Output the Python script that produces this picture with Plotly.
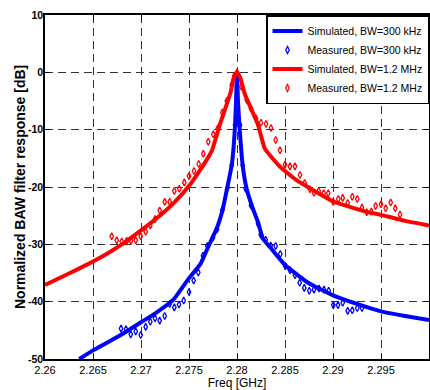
import plotly.graph_objects as go

# ---------------- data ----------------
x_tick_vals = [2.26, 2.265, 2.27, 2.275, 2.28, 2.285, 2.29, 2.295, 2.3]
x_tick_text = ["2.26", "2.265", "2.27", "2.275", "2.28", "2.285", "2.29", "2.295", "2.3"]
y_tick_vals = [10, 0, -10, -20, -30, -40, -50]
y_tick_text = ["10", "0", "-10", "-20", "-30", "-40", "-50"]

sim300_f = [2.26357, 2.2650, 2.2664, 2.2682, 2.2700, 2.2716, 2.2734, 2.2750, 2.2762,
            2.2768, 2.2774, 2.2779, 2.2785, 2.2790, 2.27945, 2.27965, 2.2798, 2.2799,
            2.2800, 2.2801, 2.28025, 2.28059, 2.2810, 2.2816, 2.2822, 2.2827, 2.2835,
            2.2850, 2.2875, 2.2900, 2.2925, 2.2950, 2.2975, 2.3000]
sim300_db = [-50.0, -48.5, -47.2, -45.5, -43.6, -41.9, -39.6, -35.9, -33.4,
             -31.2, -29.0, -27.2, -24.0, -20.0, -16.2, -13.0, -9.2, -5.0,
             0.0, -5.0, -9.2, -16.2, -20.3, -23.5, -26.2, -29.0, -30.6,
             -33.6, -36.8, -38.9, -40.4, -41.7, -42.5, -43.2]

meas300_f = [2.26792, 2.26844, 2.26893, 2.26945, 2.26997, 2.27049, 2.27097, 2.27146,
             2.27195, 2.27247, 2.27299, 2.27347, 2.27396, 2.27445, 2.27500, 2.27549,
             2.27597, 2.27646, 2.27691, 2.27750, 2.27792, 2.27847, 2.27903, 2.27945,
             2.27979, 2.28031, 2.28059, 2.28090, 2.28146, 2.28219, 2.28247, 2.28299,
             2.28351, 2.28403, 2.28451, 2.28503, 2.28552, 2.28604, 2.28653, 2.28701,
             2.28753, 2.28802, 2.28854, 2.28906, 2.28955, 2.29003, 2.29052, 2.29101,
             2.29153, 2.29201, 2.29253, 2.29302]
meas300_db = [-44.7, -44.8, -45.7, -45.2, -45.8, -44.4, -43.5, -42.9,
              -43.3, -42.5, -40.4, -41.0, -40.5, -39.8, -38.3, -36.3,
              -34.9, -32.0, -30.3, -28.8, -27.4, -24.0, -20.1, -16.2,
              -9.2, -9.2, -16.2, -20.3, -23.2, -26.4, -28.3, -29.2,
              -30.2, -30.3, -31.7, -33.8, -34.5, -35.4, -36.7, -37.6,
              -38.1, -37.9, -37.7, -37.9, -38.1, -40.6, -40.6, -40.2,
              -41.6, -41.5, -41.1, -41.1]

sim1200_f = [2.2600, 2.2625, 2.2650, 2.2665, 2.2682, 2.2699, 2.2716, 2.2734, 2.2751,
             2.2768, 2.2774, 2.2782, 2.2793, 2.27965, 2.2800, 2.28035, 2.2808, 2.2822,
             2.2829, 2.2845, 2.2862, 2.2880, 2.2900, 2.2932, 2.2951, 2.2975, 2.3000]
sim1200_db = [-37.1, -35.1, -33.0, -31.6, -29.8, -27.7, -25.5, -22.8, -19.6,
              -15.4, -13.6, -9.2, -3.7, -1.0, 0.0, -1.0, -3.7, -9.2,
              -13.3, -16.5, -18.8, -20.6, -22.5, -24.2, -24.9, -25.9, -26.7]

meas1200_f = [2.26695, 2.26747, 2.26799, 2.26851, 2.26896, 2.26945, 2.26997, 2.27049,
              2.27097, 2.27146, 2.27195, 2.27247, 2.27299, 2.27347, 2.27399, 2.27451,
              2.27500, 2.27552, 2.27601, 2.27649, 2.27701, 2.27753, 2.27799, 2.27847,
              2.27893, 2.27945, 2.27972, 2.28000, 2.28046, 2.28101, 2.28146, 2.28198,
              2.28250, 2.28302, 2.28354, 2.28403, 2.28448, 2.28500, 2.28552, 2.28604,
              2.28656, 2.28705, 2.28760, 2.28802, 2.28851, 2.28903, 2.28951, 2.29003,
              2.29055, 2.29101, 2.29153, 2.29201, 2.29253, 2.29302, 2.29351, 2.29400,
              2.29444, 2.29500, 2.29549, 2.29601, 2.29649, 2.29698]
meas1200_db = [-28.6, -29.3, -29.5, -29.4, -29.4, -29.3, -28.6, -27.8,
               -26.7, -25.6, -24.1, -22.6, -22.6, -20.7, -20.3, -19.2,
               -18.1, -17.2, -16.0, -14.2, -12.1, -10.8, -9.8, -7.0,
               -5.0, -2.2, -0.6, 0.0, -2.5, -4.8, -6.3, -8.0,
               -8.8, -9.0, -9.7, -11.8, -13.6, -16.1, -16.4, -16.4,
               -17.9, -19.3, -20.4, -21.0, -20.7, -21.1, -21.1, -22.6,
               -22.1, -21.9, -22.8, -21.7, -22.1, -23.6, -24.4, -24.3,
               -23.3, -23.0, -23.7, -22.7, -23.7, -24.8]

BLUE = "#0000FF"
RED = "#FF0000"
FONT = "Liberation Sans, Arial, sans-serif"

fig = go.Figure()
fig.add_trace(go.Scatter(x=sim300_f, y=sim300_db, mode="lines",
                         line=dict(color=BLUE, width=4, shape="spline", smoothing=0.4),
                         name="Simulated, BW=300 kHz"))
fig.add_trace(go.Scatter(x=meas300_f, y=meas300_db, mode="markers",
                         marker=dict(symbol="diamond-tall-open", color=BLUE, size=5,
                                     line=dict(width=1.3, color=BLUE)),
                         name="Measured, BW=300 kHz"))
fig.add_trace(go.Scatter(x=sim1200_f, y=sim1200_db, mode="lines",
                         line=dict(color=RED, width=4, shape="spline", smoothing=0.4),
                         name="Simulated, BW=1.2 MHz"))
fig.add_trace(go.Scatter(x=meas1200_f, y=meas1200_db, mode="markers",
                         marker=dict(symbol="diamond-tall-open", color=RED, size=5,
                                     line=dict(width=1.3, color=RED)),
                         name="Measured, BW=1.2 MHz"))

fig.update_layout(
    template="none",
    width=430, height=390,
    margin=dict(l=45, r=1, t=15, b=31, autoexpand=False),
    paper_bgcolor="white", plot_bgcolor="white",
    font=dict(family=FONT, color="black", size=12),
    showlegend=True,
    legend=dict(x=1, y=1, xanchor="right", yanchor="top",
                bgcolor="white", bordercolor="black", borderwidth=1.5,
                font=dict(family=FONT, size=10.5),
                tracegroupgap=0, itemwidth=30),
    annotations=[dict(text="<b>Normalized BAW filter response [dB]</b>",
                      xref="paper", yref="paper", x=0, y=0.5,
                      xanchor="center", yanchor="middle", xshift=-25,
                      textangle=-90, showarrow=False,
                      font=dict(family=FONT, size=14, color="black"))],
)

fig.update_xaxes(
    range=[2.26, 2.3000001], tickmode="array", tickvals=x_tick_vals, ticktext=x_tick_text,
    showgrid=True, gridcolor="#333333", gridwidth=1, griddash="8px,5px",
    zeroline=False, showline=True, linecolor="black", linewidth=1.5, mirror="ticks",
    ticks="inside", ticklen=5, tickcolor="black", automargin=False,
    tickfont=dict(family=FONT, size=11),
    title=dict(text="Freq [GHz]", font=dict(size=12), standoff=4),
)
fig.update_yaxes(
    range=[-50, 10], tickmode="array", tickvals=y_tick_vals, ticktext=y_tick_text,
    showgrid=True, gridcolor="#333333", gridwidth=1, griddash="8px,5px",
    zeroline=False, showline=True, linecolor="black", linewidth=1.5, mirror="ticks",
    ticks="inside", ticklen=5, tickcolor="black", automargin=False,
    ticklabelstandoff=-2,
    tickfont=dict(family=FONT, size=10.5, weight="bold"),
)

fig.write_html("out.html", config={"displayModeBar": False},
               post_script="document.body.style.margin='0';document.body.style.padding='0';")
